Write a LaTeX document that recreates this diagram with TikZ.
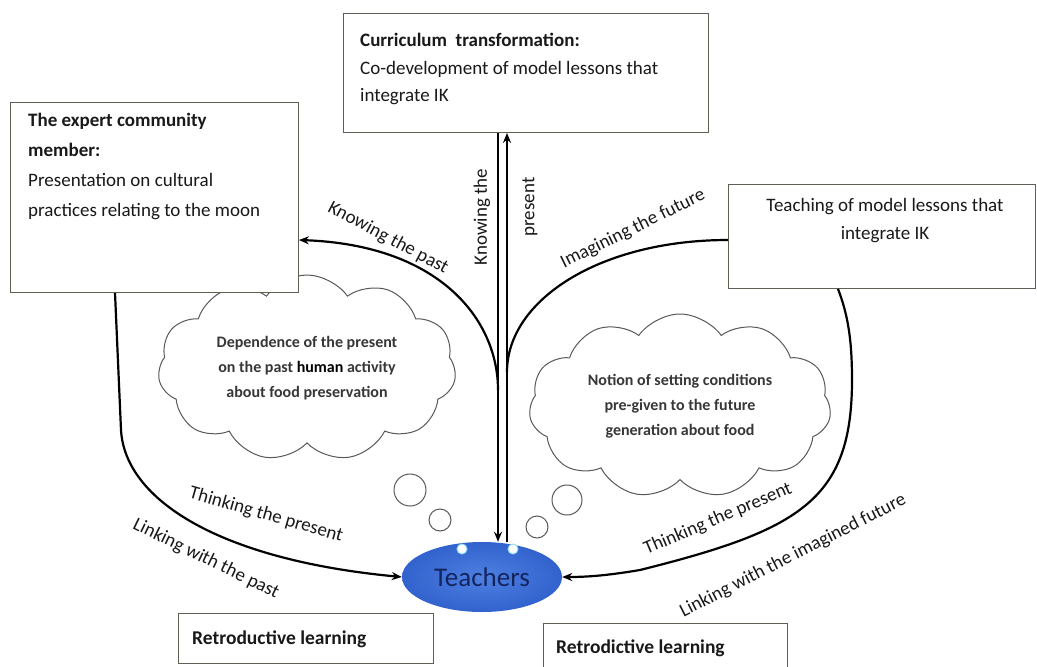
\documentclass[tikz,border=0pt]{standalone}
\usepackage{fontspec}
\setmainfont{Carlito}
\usetikzlibrary{shapes.symbols,shapes.geometric,arrows.meta}

\definecolor{boxline}{RGB}{95,95,85}
\definecolor{inkgray}{RGB}{25,25,25}
\definecolor{cloudtxt}{RGB}{55,55,55}
\definecolor{teachblue}{RGB}{50,98,205}
\definecolor{teachin}{RGB}{78,128,225}
\definecolor{teachtxt}{RGB}{20,36,95}

\begin{document}
\begin{tikzpicture}[x=1pt,y=-1pt,
  box/.style={draw=boxline, line width=0.9pt, fill=white, inner sep=0pt, anchor=north west},
  boxtext/.style={inner sep=0pt, text=inkgray, font=\fontsize{19}{30}\selectfont},
  flow/.style={line width=2.2pt, -{Stealth[length=10pt,width=8pt]}},
  plain/.style={line width=2.2pt},
  lbl/.style={inner sep=0pt, text=inkgray, font=\fontsize{19}{22}\selectfont},
  cloudy/.style={cloud, cloud puffs=11, cloud puff arc=110, cloud ignores aspect,
    draw=black!65, line width=1pt,
    fill=white, inner sep=0pt, align=center, text=cloudtxt,
    font=\bfseries\fontsize{16}{25}\selectfont},
  bubble/.style={circle, draw=black!65, line width=1pt, fill=white, inner sep=0pt},
]
\useasboundingbox[fill=white] (0,0) rectangle (1037,667);

% helper columns for the two vertical strands
\coordinate (vL) at (498,0);
\coordinate (vR) at (507,0);

% thought clouds (drawn first so the boxes sit on top)
\node[cloudy, minimum width=298pt, minimum height=186pt] (cloudL) at (307,368)
  {Dependence of the present\\on the past {\color{black}human} activity\\about food preservation};
\node[cloudy, minimum width=302pt, minimum height=184pt] (cloudR) at (680,406)
  {Notion of setting conditions\\pre-given to the future\\generation about food};

% thought bubbles leading down to the teachers
\node[bubble, minimum size=32pt] (bL1) at (410,490) {};
\node[bubble, minimum size=22pt] (bL2) at (440,520) {};
\node[bubble, minimum size=30pt] (bR1) at (567,500) {};
\node[bubble, minimum size=22pt] (bR2) at (537,527) {};

% boxes
\node[box, minimum width=288pt, minimum height=190pt] (expert) at (10,102) {};
\node[boxtext, anchor=north west, align=left] (expertT) at (28,113)
  {\textbf{The expert community}\\\textbf{member:}\\Presentation on cultural\\practices relating to the moon};

\node[box, minimum width=365pt, minimum height=119pt] (curr) at (343,13) {};
\node[boxtext, anchor=north west, align=left, font=\fontsize{19}{27.5}\selectfont] (currT) at (360,33)
  {\textbf{Curriculum\ \ transformation:}\\Co-development of model lessons that\\integrate IK};

\node[box, minimum width=307pt, minimum height=104pt] (teachbox) at (728,184) {};
\node[boxtext, anchor=north, align=center, font=\fontsize{19}{28}\selectfont] (teachboxT) at (885,198)
  {Teaching of model lessons that\\integrate IK};

\node[box, minimum width=255pt, minimum height=50pt] (retro) at (178,613) {};
\node[boxtext, anchor=west, font=\bfseries\fontsize{19.5}{22}\selectfont] (retroT) at (192,639) {Retroductive learning};

\node[box, minimum width=244pt, minimum height=60pt] (retrod) at (543,623) {};
\node[boxtext, anchor=west, font=\bfseries\fontsize{19.5}{22}\selectfont] (retrodT) at (556,648) {Retrodictive learning};

% teachers
\node[ellipse, inner color=teachin, outer color=teachblue, draw=none,
      minimum width=160pt, minimum height=70pt, text=teachtxt,
      font=\fontsize{27}{30}\selectfont] (teach) at (482,577) {Teachers};
\node[bubble, draw=cyan!40, minimum size=10pt] (bL3) at (462,549) {};
\node[bubble, draw=cyan!40, minimum size=10pt] (bR3) at (513,549) {};

% junctions where the side curves meet the vertical strands
\coordinate (jL) at (498,390);
\coordinate (jR) at (507,372);
\coordinate (kp) at (0,240);
\coordinate (ip) at (0,240);

% vertical strands
\draw[flow] (curr.south -| vL) -- (teach.north -| vL);
\draw[flow] (teach.north -| vR) -- (curr.south -| vR);

% upper curves
\draw[flow] (jL) .. controls (498,320) and (440,245) .. (expert.east |- kp);
\draw[plain] (teachbox.west |- ip) .. controls (600,240) and (507,300) .. (jR);

% lower curves into the teachers
\draw[flow] (expert.south -| 115,0) -- (121,430) .. controls (125,500) and (220,560) .. (teach.west);
\draw[flow] (teachbox.south -| 838,0) .. controls (848,315) and (852,340) .. (852,380)
  .. controls (852,500) and (800,530) .. (640,570) .. controls (610,575) and (590,577) .. (teach.east);

% connector labels
\node[lbl, rotate=-28] (lKP) at (388,238) {Knowing the past};
\node[lbl, rotate=90] (lKT) at (482,217) {Knowing the};
\node[lbl, rotate=90] (lPr) at (530,207) {present};
\node[lbl, rotate=26] (lIF) at (633,229) {Imagining the future};
\node[lbl, rotate=-16] (lTPl) at (266,515) {Thinking the present};
\node[lbl, rotate=-26] (lLP) at (206,559) {Linking with the past};
\node[lbl, rotate=23] (lTPr) at (718,519) {Thinking the present};
\node[lbl, rotate=27] (lLF) at (793,556) {Linking with the imagined future};
\end{tikzpicture}
\end{document}
